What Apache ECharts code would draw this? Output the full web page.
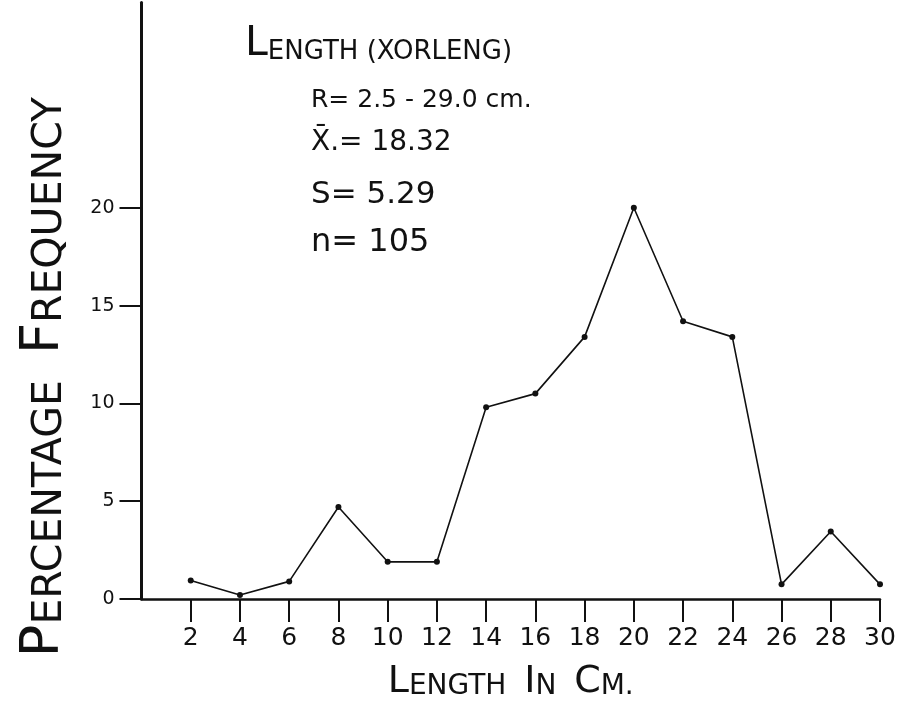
<!DOCTYPE html>
<html>
<head>
<meta charset="utf-8">
<script src="https://cdn.jsdelivr.net/npm/echarts@6/dist/echarts.min.js"></script>
<style>
html,body{margin:0;padding:0;background:#fff;}
#chart{width:899px;height:706px;}
</style>
</head>
<body>
<div id="chart"></div>
<script>
// ---- data ----
const lengthClasses = [2, 4, 6, 8, 10, 12, 14, 16, 18, 20, 22, 24, 26, 28, 30];
const percentFrequency = [0.95, 0.2, 0.9, 4.7, 1.9, 1.9, 9.8, 10.5, 13.4, 20, 14.2, 13.4, 0.75, 3.45, 0.75];
const xTickValues = [2, 4, 6, 8, 10, 12, 14, 16, 18, 20, 22, 24, 26, 28, 30];
const yTickValues = [0, 5, 10, 15, 20];
const titleText = ['L', 'ENGTH (XORLENG)'];
const statLines = ['R= 2.5 - 29.0 cm.', 'X\u0304.= 18.32', 'S= 5.29', 'n= 105'];
const xAxisTitle = [['L', 'ENGTH'], ['I', 'N'], ['C', 'M.']];
const yAxisTitle = [['P', 'ERCENTAGE'], ['F', 'REQUENCY']];

const FONT = '"DejaVu Sans", sans-serif';
const INK = '#111';

function smallCaps(words, gapStyle) {
  return words.map(w => '{b|' + w[0] + '}{s|' + w[1] + '}').join('{' + gapStyle + '|  }');
}

const seriesData = lengthClasses.map((x, i) => [x, percentFrequency[i]]);

const chart = echarts.init(document.getElementById('chart'));
const statYs = [100, 143, 195, 243];
const statSizes = [25, 28, 31, 32];

chart.setOption({
  backgroundColor: '#fff',
  animation: false,
  grid: { left: 141.5, right: 19, top: 2.4, bottom: 106.7, containLabel: false },
  xAxis: {
    type: 'value', min: 0, max: 30, interval: 2,
    axisLine: { show: true, onZero: false, lineStyle: { color: INK, width: 2.5 } },
    axisTick: { show: true, length: 23, customValues: xTickValues, lineStyle: { color: INK, width: 2 } },
    axisLabel: { customValues: xTickValues, margin: 27, color: INK, fontFamily: FONT, fontSize: 25 },
    splitLine: { show: false },
    name: smallCaps(xAxisTitle, 's'),
    nameLocation: 'middle',
    nameGap: 62,
    nameTextStyle: {
      color: INK,
      rich: {
        b: { fontFamily: FONT, fontSize: 38, color: INK, verticalAlign: 'bottom', lineHeight: 40 },
        s: { fontFamily: FONT, fontSize: 28, color: INK, verticalAlign: 'bottom', lineHeight: 40 }
      }
    }
  },
  yAxis: {
    type: 'value', min: 0, max: 30.5, interval: 5,
    axisLine: { show: true, onZero: false, lineStyle: { color: INK, width: 3 } },
    axisTick: { show: true, length: 22, customValues: yTickValues, lineStyle: { color: INK, width: 2 } },
    axisLabel: { customValues: yTickValues, margin: 27, color: INK, fontFamily: FONT, fontSize: 19 },
    splitLine: { show: false }
  },
  series: [{
    type: 'line',
    data: seriesData,
    symbol: 'circle',
    symbolSize: 6,
    lineStyle: { color: INK, width: 1.6 },
    itemStyle: { color: INK },
    z: 5
  }],
  graphic: [
    {
      type: 'text', left: 245, top: 24,
      style: {
        text: '{b|' + titleText[0] + '}{s|' + titleText[1] + '}',
        rich: {
          b: { fontFamily: FONT, fontSize: 41, fill: INK, verticalAlign: 'bottom', lineHeight: 44 },
          s: { fontFamily: FONT, fontSize: 26, fill: INK, verticalAlign: 'bottom', lineHeight: 44 }
        }
      }
    },
    ...statLines.map((t, i) => ({
      type: 'text', x: 311, y: statYs[i],
      style: { text: t, fontFamily: FONT, fontSize: statSizes[i], fill: INK, textAlign: 'left', textVerticalAlign: 'middle' }
    })),
    {
      type: 'text', x: 42, y: 377, rotation: Math.PI / 2,
      style: {
        text: smallCaps(yAxisTitle, 's'),
        textAlign: 'center', textVerticalAlign: 'middle',
        rich: {
          b: { fontFamily: FONT, fontSize: 54, fill: INK, verticalAlign: 'bottom', lineHeight: 58 },
          s: { fontFamily: FONT, fontSize: 41, fill: INK, verticalAlign: 'bottom', lineHeight: 58 }
        }
      }
    }
  ]
});
</script>
</body>
</html>
